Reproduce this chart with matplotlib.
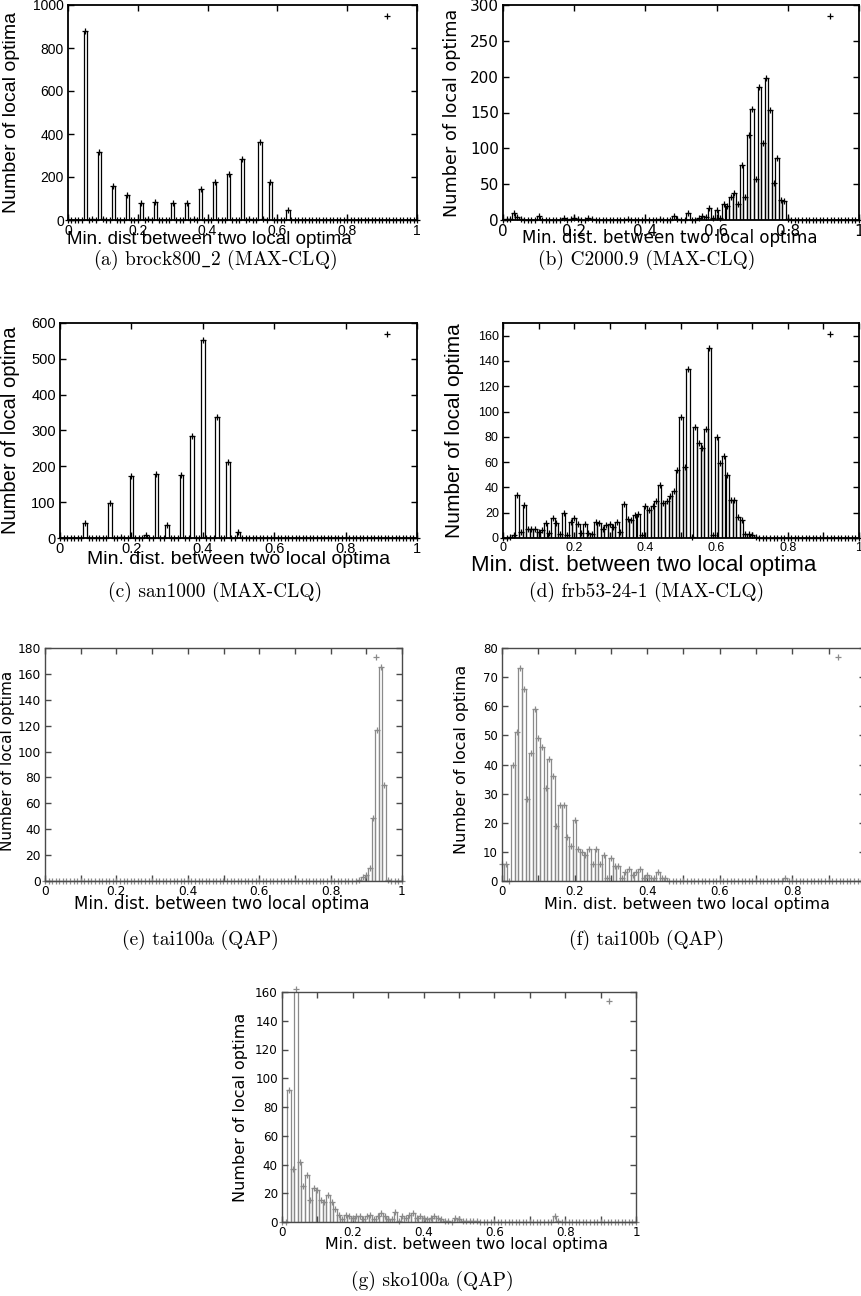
import numpy as np
import matplotlib
matplotlib.use('Agg')
import matplotlib.pyplot as plt
from matplotlib.ticker import MultipleLocator, FuncFormatter

plt.rcParams['mathtext.fontset'] = 'cm'

W, H = 862, 1296

# ---- data: counts per 0.01-wide bin (bin i centred on i*0.01) ----
# (a) brock800_2 -- sparse
a_bins = [5, 7, 9, 10, 13, 17, 21, 23, 25, 30, 34, 36, 38, 42, 46, 50, 52, 55, 56, 58, 63]
a_counts = [880, 3, 315, 5, 160, 115, 80, 3, 85, 80, 80, 6, 145, 175, 215, 283, 5, 365, 5, 178, 45]

# (b) C2000.9 -- sparse
b_bins = [1, 2, 3, 4, 5, 10, 17, 19, 20, 21, 24, 25, 35, 44, 48, 49, 52,
          55, 56, 57, 58, 59, 60, 61, 62, 63, 64, 65, 66, 67, 68, 69, 70,
          71, 72, 73, 74, 75, 76, 77, 78, 79, 80]
b_counts = [1, 2, 10, 4, 1, 5, 3, 1, 3, 1, 3, 1, 2, 1, 5, 2, 10,
            3, 5, 4, 17, 3, 14, 3, 23, 19, 32, 37, 22, 77, 32, 118, 155,
            57, 185, 108, 198, 153, 52, 87, 28, 27, 2]

# (c) san1000 -- sparse
c_bins = [7, 14, 17, 20, 24, 27, 30, 34, 37, 40, 44, 47, 50]
c_counts = [42, 98, 3, 174, 9, 178, 37, 176, 285, 553, 338, 211, 16]

# (d) frb53-24-1 -- bins 0..71
d_counts = [0, 0, 1, 2, 34, 5, 26, 7, 7, 7, 5, 6, 12, 4, 16, 12, 3, 20, 2, 13,
            16, 11, 4, 11, 4, 3, 13, 12, 7, 10, 11, 9, 13, 5, 27, 15, 14, 18, 19, 2,
            25, 22, 25, 29, 42, 28, 29, 33, 37, 54, 96, 56, 134, 1, 88, 75, 71, 86, 150, 2,
            80, 59, 65, 50, 30, 30, 17, 14, 3, 3, 2, 1]

# (e) tai100a -- bins 88..96
e_start = 88
e_counts = [1, 3, 5, 10, 49, 117, 165, 74, 1]

# (f) tai100b -- bins 0..45, plus one at 0.78
f_counts = [6, 6, 0, 40, 51, 73, 66, 28, 44, 59, 49, 46, 32, 42, 36, 19, 26, 26, 15, 12,
            21, 11, 10, 9, 11, 6, 11, 6, 9, 1, 8, 5, 5, 1, 3, 4, 2, 3, 4, 1,
            2, 1, 1, 3, 1, 1]
f_extra_bins = [78]
f_extra_counts = [1]

# (g) sko100a -- bins 0..55, plus a bump at 0.77
g_counts = [0, 0, 92, 37, 162, 42, 25, 33, 15, 24, 22, 15, 14, 19, 14, 9, 5, 2, 5, 4,
            3, 4, 4, 2, 4, 5, 2, 4, 6, 4, 2, 2, 7, 1, 4, 3, 5, 6, 3, 4,
            3, 2, 3, 4, 3, 2, 1, 1, 0, 3, 2, 1, 1, 1, 1, 1]
g_extra_bins = [77, 78]
g_extra_counts = [4, 1]

captions = [r'(a) brock800$\_$2 (MAX-CLQ)', '(b) C2000.9 (MAX-CLQ)',
            '(c) san1000 (MAX-CLQ)', '(d) frb53-24-1 (MAX-CLQ)',
            '(e) tai100a (QAP)', '(f) tai100b (QAP)', '(g) sko100a (QAP)']
ylab = 'Number of local optima'
xlab = 'Min. dist. between two local optima'
xlab_a = 'Min. dist between two local optima'

NB = 101


def sparse(bins, counts):
    arr = np.zeros(NB)
    arr[np.array(bins)] = counts
    return arr


def dense(counts, start=0):
    arr = np.zeros(NB)
    arr[start:start + len(counts)] = counts
    return arr


A = sparse(a_bins, a_counts)
B = sparse(b_bins, b_counts)
C = sparse(c_bins, c_counts)
D = dense(d_counts)
E = dense(e_counts, e_start)
F = dense(f_counts) + sparse(f_extra_bins, f_extra_counts)
G = dense(g_counts) + sparse(g_extra_bins, g_extra_counts)

fig = plt.figure(figsize=(W / 100, H / 100), dpi=100)


def px_axes(left, top, right, bottom):
    return fig.add_axes([left / W, 1 - bottom / H, (right - left) / W, (bottom - top) / H])


def fmt(v, p):
    return '%g' % round(v, 3)


def panel(box, counts, ymax, ystep, gnu, font, tsize, ylsize, xlsize,
          ylpos, xlpos, key, xlabel=xlab, minor=False):
    ax = px_axes(*box)
    col = 'black' if gnu else '#8a8a8a'
    spine = 'black' if gnu else '#4a4a4a'
    x = np.arange(NB) * 0.01
    ax.bar(x, counts, width=0.01, fill=False, edgecolor=col, linewidth=0.9)
    ax.plot(x, counts, '+', color=col, ms=5, mew=0.9, clip_on=False)
    ax.plot([key[0]], [key[1]], '+', color=col, ms=5, mew=0.9, transform=ax.transAxes)
    ax.set_xlim(0, 1)
    ax.set_ylim(0, ymax)
    ax.xaxis.set_major_locator(MultipleLocator(0.2))
    ax.yaxis.set_major_locator(MultipleLocator(ystep))
    ax.xaxis.set_major_formatter(FuncFormatter(fmt))
    if minor:
        ax.xaxis.set_minor_locator(MultipleLocator(0.1))
        ax.tick_params(which='minor', direction='in', top=True, bottom=True,
                       length=4, width=1, color=spine)
    ax.tick_params(which='major', direction='in', top=True, right=True, length=4,
                   width=1, color=spine, labelsize=tsize, pad=3,
                   labelfontfamily=font)
    for s in ax.spines.values():
        s.set_color(spine)
        s.set_linewidth(1.3 if gnu else 1.0)
    ax.set_ylabel(ylab, family=font, fontsize=ylsize)
    ax.yaxis.set_label_coords(ylpos[0], ylpos[1])
    fig.text(xlpos[0] / W, 1 - xlpos[1] / H, xlabel, family=font, fontsize=xlsize,
             ha='center', va='center')
    return ax


HEL = 'Liberation Sans'
DJ = 'DejaVu Sans'

panel((68, 5, 417, 220), A, 1000, 200, True, HEL, 10, 14, 13.5,
      (-0.138, 0.5), (209, 240), (0.914, 0.95), xlabel=xlab_a)
panel((503, 5, 859, 220), B, 300, 50, True, DJ, 11, 12.7, 12,
      (-0.118, 0.5), (670, 238), (0.918, 0.95))
panel((60, 323, 417, 538), C, 600, 100, True, HEL, 10.5, 14.5, 14,
      (-0.112, 0.5), (239, 560), (0.916, 0.947))
panel((503, 323, 859, 538), D, 170, 20, True, HEL, 9, 15, 16,
      (-0.109, 0.5), (644, 565), (0.918, 0.949), minor=True)
panel((45, 648, 402, 881), E, 180, 20, False, DJ, 8.8, 11, 12,
      (-0.084, 0.516), (222, 904), (0.926, 0.96), minor=True)
panel((502, 648, 865, 881), F, 80, 10, False, DJ, 8.5, 11.5, 11.5,
      (-0.09, 0.52), (687, 904), (0.926, 0.96), minor=True)
panel((282, 992, 636, 1222), G, 160, 20, False, DJ, 8.6, 11.5, 11.4,
      (-0.095, 0.5), (467, 1245), (0.924, 0.961), minor=True)

cap_pos = [(215, 260), (647, 260), (215, 592), (647, 592), (200, 940), (647, 940), (432, 1281)]
for (cx, cy), t in zip(cap_pos, captions):
    fig.text(cx / W, 1 - cy / H, t, family='cmr10', fontsize=14, ha='center', va='center')

fig.savefig('out.png', dpi=100)
